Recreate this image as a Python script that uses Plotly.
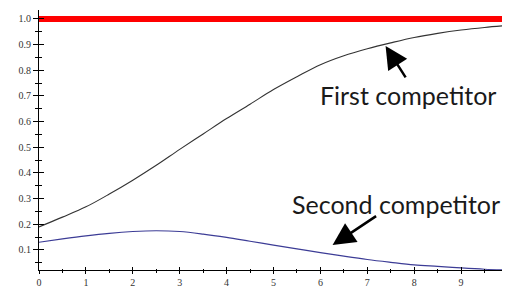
import plotly.graph_objects as go

# Data
x_vals = [0, 0.5, 1, 1.5, 2, 2.5, 3, 3.5, 4, 4.5, 5, 5.5, 6, 6.5, 7, 7.5, 8, 8.5, 9, 9.5, 10]
first_competitor = [0.19, 0.228, 0.268, 0.318, 0.372, 0.43, 0.492, 0.552, 0.612, 0.668, 0.725, 0.775, 0.822, 0.857, 0.884, 0.907, 0.928, 0.944, 0.957, 0.967, 0.975]
second_competitor = [0.13, 0.143, 0.155, 0.165, 0.172, 0.175, 0.172, 0.162, 0.149, 0.134, 0.119, 0.104, 0.09, 0.076, 0.063, 0.052, 0.042, 0.036, 0.03, 0.025, 0.022]
reference_level = [1.0] * len(x_vals)

x_ticks = list(range(0, 11))
y_ticks = [0.1, 0.2, 0.3, 0.4, 0.5, 0.6, 0.7, 0.8, 0.9, 1.0]
y_tick_labels = ["0.1", "0.2", "0.3", "0.4", "0.5", "0.6", "0.7", "0.8", "0.9", "1.0"]

fig = go.Figure()
fig.add_trace(go.Scatter(x=x_vals, y=first_competitor, mode="lines",
                         line=dict(color="#333333", width=1.1, shape="spline"),
                         showlegend=False, hoverinfo="skip"))
fig.add_trace(go.Scatter(x=x_vals, y=second_competitor, mode="lines",
                         line=dict(color="#3c3c96", width=1.2, shape="spline"),
                         showlegend=False, hoverinfo="skip"))
fig.add_trace(go.Scatter(x=x_vals, y=reference_level, mode="lines",
                         line=dict(color="#ff0000", width=6),
                         showlegend=False, hoverinfo="skip", cliponaxis=False))
# invisible trace on the overlay axes so they are drawn
fig.add_trace(go.Scatter(x=[0], y=[0.5], xaxis="x2", yaxis="y2", mode="markers",
                         marker=dict(opacity=0), showlegend=False, hoverinfo="skip"))

tick_font = dict(family="Liberation Serif", size=10, color="#333333")
text_font = dict(family="Lato", size=25, color="#1a1a1a")

common_x = dict(range=[0, 10], showgrid=False, zeroline=False, tickvals=x_ticks,
                showline=True, linecolor="black", linewidth=1, tickcolor="black",
                tickwidth=1, ticklen=3, automargin=False)
common_y = dict(range=[0.022, 1.035], showgrid=False, zeroline=False, tickvals=y_ticks,
                showline=True, linecolor="black", linewidth=1, tickcolor="black",
                tickwidth=1, ticklen=5, automargin=False)

# the page body has an 8px margin, so the figure is 8px smaller and offset
fig.update_layout(
    width=502, height=280,
    margin=dict(l=31, r=2, t=2, b=18),
    paper_bgcolor="white", plot_bgcolor="white",
    xaxis=dict(**common_x, ticks="outside", ticktext=[str(v) for v in x_ticks],
               tickfont=tick_font,
               minor=dict(ticks="outside", dtick=0.5, ticklen=1.5, tickcolor="black")),
    yaxis=dict(**common_y, ticks="outside", ticktext=y_tick_labels,
               tickfont=tick_font,
               minor=dict(ticks="outside", dtick=0.05, tick0=0, ticklen=3, tickcolor="black")),
    xaxis2=dict(**common_x, ticks="inside", overlaying="x", matches="x",
                showticklabels=False,
                minor=dict(ticks="inside", dtick=0.5, ticklen=1.5, tickcolor="black")),
    yaxis2=dict(**common_y, ticks="inside", overlaying="y", matches="y",
                showticklabels=False,
                minor=dict(ticks="inside", dtick=0.05, tick0=0, ticklen=3, tickcolor="black")),
    annotations=[
        dict(x=7.39, y=0.895, xref="x", yref="y", text="", showarrow=True,
             ax=21, ay=33, axref="pixel", ayref="pixel",
             arrowhead=2, arrowsize=1.8, arrowwidth=2.5, arrowcolor="black"),
        dict(x=6.26, y=0.119, xref="x", yref="y", text="", showarrow=True,
             ax=45, ay=-30, axref="pixel", ayref="pixel",
             arrowhead=2, arrowsize=1.8, arrowwidth=2.5, arrowcolor="black"),
        dict(x=7.86, y=0.705, xref="x", yref="y", text="First competitor",
             showarrow=False, font=text_font, xanchor="center", yanchor="middle"),
        dict(x=7.62, y=0.278, xref="x", yref="y", text="Second competitor",
             showarrow=False, font=text_font, xanchor="center", yanchor="middle"),
    ],
)

fig.write_html("out.html")
